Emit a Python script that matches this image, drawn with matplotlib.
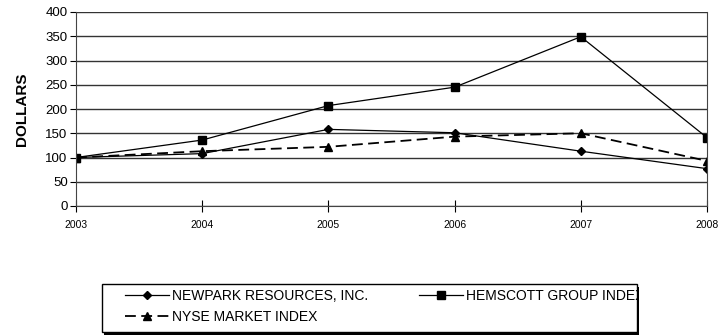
import matplotlib
matplotlib.use("Agg")
import matplotlib.pyplot as plt
from matplotlib.patches import Rectangle

years = [2003, 2004, 2005, 2006, 2007, 2008]
newpark = [100, 108, 158, 151, 113, 77]
hemscott = [100, 136, 207, 245, 349, 141]
nyse = [100, 113, 122, 143, 150, 93]

plt.rcParams['font.family'] = ['Liberation Sans', 'DejaVu Sans']

W, H = 721, 335
fig = plt.figure(figsize=(W / 100, H / 100), dpi=100)
ax = fig.add_axes([76 / W, 1 - 206 / H, (707 - 76) / W, (206 - 12) / H])

l1, = ax.plot(years, newpark, color='black', lw=0.9, marker='D', ms=4.5,
              label='NEWPARK RESOURCES, INC.')
l2, = ax.plot(years, hemscott, color='black', lw=0.9, marker='s', ms=5.5,
              label='HEMSCOTT GROUP INDEX')
l3, = ax.plot(years, nyse, color='black', lw=1.3, ls=(0, (6, 3)), marker='^', ms=5.5,
              label='NYSE MARKET INDEX')

ax.set_xlim(2003, 2008)
ax.set_ylim(0, 400)
ax.set_yticks(range(0, 401, 50))
ax.set_xticks(years)
ax.set_xticklabels([str(y) for y in years], fontsize=7.5)
ax.tick_params(axis='y', labelsize=9.5, length=4, direction='out', pad=2)
ax.tick_params(axis='x', length=8, direction='inout', pad=6)
ax.yaxis.grid(True, color='#333333', lw=1)
ax.set_axisbelow(True)
ax.spines['top'].set_visible(False)
for s in ['left', 'bottom', 'right']:
    ax.spines[s].set_color('#444444')
ax.set_ylabel('DOLLARS', fontsize=11, fontweight='bold', labelpad=12)

# legend box with a hard shadow, drawn in figure pixels
shadow = Rectangle((104 / W, 1 - 335 / H), 535 / W, 48 / H, transform=fig.transFigure,
                   facecolor='black', edgecolor='none', zorder=5)
box = Rectangle((102 / W, 1 - 332 / H), 535 / W, 48 / H, transform=fig.transFigure,
                facecolor='white', edgecolor='black', lw=1, zorder=6)
fig.add_artist(shadow)
fig.add_artist(box)

# row-major order like the original: newpark, hemscott / nyse
leg = fig.legend([l1, l3, l2], [l1.get_label(), l3.get_label(), l2.get_label()],
                 loc='upper left', bbox_to_anchor=(125 / W, 1 - 289 / H), ncol=2,
                 fontsize=10, frameon=False, handlelength=3.2,
                 columnspacing=3.7, borderpad=0, labelspacing=0.5,
                 handletextpad=0.15, borderaxespad=0)
leg.set_zorder(7)
for t in leg.get_texts():
    t.set_clip_path(box)

fig.savefig('out.png', dpi=100)
